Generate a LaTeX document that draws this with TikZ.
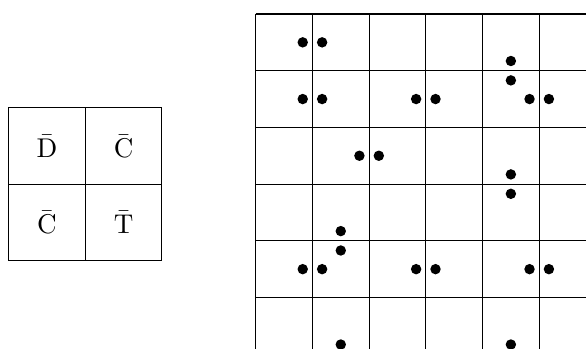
\documentclass[tikz,border=0pt]{standalone}
\usepackage{tikz}
\usetikzlibrary{positioning}
\newcommand{\cellmark}[1]{\scalebox{1.36}{$\bar{\mathrm{#1}}$}}
\begin{document}
\begin{tikzpicture}[
  line width=0.55pt,
  cellbox/.style={draw, minimum size=1.35cm, inner sep=0pt, outer sep=0pt},
  stone/.style={fill=black}]
\useasboundingbox (0,0) rectangle (10.335,6.155);

%% 2x2 square (left)
\node[cellbox] (dd) at (0.829,3.580) {\cellmark{D}};
\node[cellbox, right=0pt of dd] (dc) {\cellmark{C}};
\node[cellbox, below=0pt of dd]  (cd) {\cellmark{C}};
\node[cellbox, right=0pt of cd]  (tt) {\cellmark{T}};

%% lattice with stones (right, runs off the page)
\begin{scope}[shift={(4.51,5.908)}]
  \clip (-0.1,0.1) rectangle (5.825,-5.908);
  \foreach \i in {0,...,5} \draw (\i,0) -- (\i,-6.5);
  \foreach \j in {0,...,5} \draw (0,-\j) -- (6.5,-\j);
  %% pairs across a vertical line
  \foreach \i/\r in {1/0,1/1,3/1,5/1,2/2,1/4,3/4,5/4} {
    \fill[stone] (\i-0.171,-\r-0.5) circle (0.092);
    \fill[stone] (\i+0.171,-\r-0.5) circle (0.092);
  }
  %% pairs across a horizontal line
  \foreach \c/\j in {4/1,4/3,1/4,1/6,4/6} {
    \fill[stone] (\c+0.5,-\j+0.171) circle (0.092);
    \fill[stone] (\c+0.5,-\j-0.171) circle (0.092);
  }
\end{scope}
\end{tikzpicture}
\end{document}
